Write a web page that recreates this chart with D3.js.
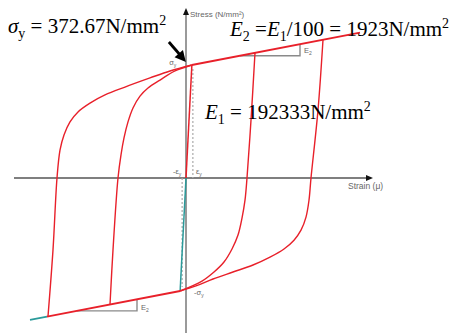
<!DOCTYPE html>
<html>
<head>
<meta charset="utf-8">
<script src="https://cdn.jsdelivr.net/npm/d3@7"></script>
<style>
  html, body { margin: 0; padding: 0; background: #fff; }
  svg { display: block; }
</style>
</head>
<body>
<svg id="chart" width="453" height="333"></svg>
<script>
// Material constants (N/mm², strain in micro-strain)
const sigmaY = 372.67;
const E1 = 192333;
const E2 = 1923;
const epsY = sigmaY / E1 * 1e6;   // ≈ 1938 μ

// Axis extents [strain, stress]
const strainAxis = [-56760, 61710];
const stressAxis = [-511, 561];

// Hardening branch ends (strain, μ)
const upperBranchEnd = 57420;
const lowerBranchRedEnd = -45870;
const lowerBranchTealEnd = -51480;

// Slope triangles on the hardening branches (strain, μ)
const upperTriangle = [17820, 37620];
const lowerTriangle = [-35970, -16170];

// Hysteresis loops: [strain μ, stress N/mm²]
const rightOuter = [[45210, 456], [43560, 224], [41250, 0], [40590, -73], [39600, -129],
  [37950, -172], [35640, -205], [32340, -234], [27720, -261], [22110, -287],
  [15510, -310], [8910, -333], [3300, -356], [-1938, -372.67]];
const rightInner = [[22770, 413], [21450, 191], [20130, 0], [19470, -73], [18480, -132],
  [17160, -188], [15180, -234], [12540, -277], [9240, -310], [5280, -340], [-1938, -372.67]];
const leftOuter = [[-45540, -456], [-43890, -237], [-42570, 0], [-41580, 92], [-40260, 142],
  [-38280, 185], [-35640, 218], [-31680, 247], [-26730, 274], [-20130, 300],
  [-11880, 330], [-5280, 353], [1938, 372.67]];
const leftInner = [[-25080, -417], [-24090, -237], [-22440, 0], [-21450, 76], [-20460, 132],
  [-19140, 185], [-17490, 231], [-15180, 270], [-12540, 297], [-8580, 323],
  [-3630, 353], [1938, 372.67]];

const loops = [rightOuter, rightInner, leftOuter, leftInner];

const svg = d3.select("#chart");
const x = d3.scaleLinear().domain([-56100, 62700]).range([16, 376]);
const y = d3.scaleLinear().domain([-510, 560]).range([332.64, 8.2]);

const RED = "#e8202a";
const TEAL = "#2a9a9a";
const GREY = "#8a8a8a";

const upperStress = e => sigmaY + E2 * (e - epsY) * 1e-6;
const lowerStress = e => -sigmaY + E2 * (e + epsY) * 1e-6;

// Stress axis (grey, vertical)
svg.append("line")
  .attr("x1", x(0)).attr("x2", x(0))
  .attr("y1", y(stressAxis[0])).attr("y2", y(stressAxis[1]) + 4)
  .attr("stroke", "#9a9a9a").attr("stroke-width", 2);
svg.append("path")
  .attr("d", `M${x(0)},${y(stressAxis[1])} l-3,7 h6 z`)
  .attr("fill", "#111");

// Strain axis (dark, horizontal)
svg.append("line")
  .attr("x1", x(strainAxis[0])).attr("x2", x(strainAxis[1]) - 4)
  .attr("y1", y(0)).attr("y2", y(0))
  .attr("stroke", "#555").attr("stroke-width", 1.6);
svg.append("path")
  .attr("d", `M${x(strainAxis[1])},${y(0)} l-7,-3 v6 z`)
  .attr("fill", "#111");

// Dotted guide lines at ±εy
svg.append("line")
  .attr("x1", x(epsY) + 1).attr("x2", x(epsY) + 1)
  .attr("y1", y(sigmaY) + 4).attr("y2", y(0))
  .attr("stroke", "#aaa").attr("stroke-width", 1.2).attr("stroke-dasharray", "2,2");
svg.append("line")
  .attr("x1", x(-epsY) + 2).attr("x2", x(-epsY) + 2)
  .attr("y1", y(0)).attr("y2", y(-sigmaY) - 4)
  .attr("stroke", "#aaa").attr("stroke-width", 1.2).attr("stroke-dasharray", "2,2");

// Slope triangles
function triangle(ends, f) {
  const [a, b] = ends;
  return `M${x(a)},${y(f(a))} H${x(b)} V${y(f(b))}`;
}
svg.append("path").attr("d", triangle(upperTriangle, upperStress))
  .attr("fill", "none").attr("stroke", GREY).attr("stroke-width", 1.4);
svg.append("path").attr("d", triangle(lowerTriangle, lowerStress))
  .attr("fill", "none").attr("stroke", GREY).attr("stroke-width", 1.4);

const line = d3.line().x(d => x(d[0])).y(d => y(d[1]));
const curve = d3.line().x(d => x(d[0])).y(d => y(d[1])).curve(d3.curveCatmullRom.alpha(0.5));

// Elastic branch
svg.append("path").datum([[-epsY, -sigmaY], [0, 0]]).attr("d", line)
  .attr("fill", "none").attr("stroke", TEAL).attr("stroke-width", 1.5);
svg.append("path").datum([[0, 0], [epsY, sigmaY]]).attr("d", line)
  .attr("fill", "none").attr("stroke", RED).attr("stroke-width", 1.5);

// Hardening branches
svg.append("path").datum([[lowerBranchRedEnd, lowerStress(lowerBranchRedEnd)], [lowerBranchTealEnd, lowerStress(lowerBranchTealEnd)]])
  .attr("d", line).attr("fill", "none").attr("stroke", TEAL).attr("stroke-width", 1.6);
svg.append("path").datum([[-epsY, -sigmaY], [lowerBranchRedEnd, lowerStress(lowerBranchRedEnd)]])
  .attr("d", line).attr("fill", "none").attr("stroke", RED).attr("stroke-width", 1.8);
svg.append("path").datum([[epsY, sigmaY], [upperBranchEnd, upperStress(upperBranchEnd)]])
  .attr("d", line).attr("fill", "none").attr("stroke", RED).attr("stroke-width", 1.8);

// Hysteresis loops
svg.selectAll("path.loop").data(loops).join("path")
  .attr("class", "loop")
  .attr("d", curve)
  .attr("fill", "none").attr("stroke", RED).attr("stroke-width", 1.4);

// Small axis captions
const small = { "font-family": "Arial, 'Liberation Sans', sans-serif", "font-size": 8, "fill": "#666" };
function smallText(tx, ty, str, size) {
  const t = svg.append("text").attr("x", tx).attr("y", ty);
  Object.entries(small).forEach(([k, v]) => t.attr(k, v));
  if (size) t.attr("font-size", size);
  t.text(str);
  return t;
}
smallText(x(0) + 4, y(stressAxis[1]) + 9, "Stress (N/mm²)");
smallText(x(strainAxis[1]) - 25, y(0) + 11, "Strain (μ)", 8.5);
smallText(x(-epsY) - 11, y(sigmaY), "σ", 7.5).append("tspan").attr("dy", 2).attr("font-size", 5).text("y");
smallText(x(0) + 8, y(-sigmaY) + 4, "-σ", 7.5).append("tspan").attr("dy", 2).attr("font-size", 5).text("y");
smallText(x(0) - 13, y(0) - 4, "-ε", 7.5).append("tspan").attr("dy", 2).attr("font-size", 5).text("y");
smallText(x(0) + 10, y(0) - 4, "ε", 7.5).append("tspan").attr("dy", 2).attr("font-size", 5).text("y");
smallText(x(upperTriangle[1]) + 4, y(upperStress(upperTriangle[0])) - 3, "E", 7.5).append("tspan").attr("dy", 2).attr("font-size", 5).text("2");
smallText(x(lowerTriangle[1]) + 4, y(lowerStress(lowerTriangle[0])) - 1, "E", 7.5).append("tspan").attr("dy", 2).attr("font-size", 5).text("2");

// Large annotations (serif, math style)
const serif = "'Liberation Serif', 'Times New Roman', serif";
function bigText(tx, ty, parts) {
  const t = svg.append("text").attr("x", tx).attr("y", ty)
    .attr("font-family", serif).attr("font-size", 21).attr("fill", "#000");
  let shift = 0;
  parts.forEach(p => {
    const want = p.sub ? 5 : p.sup ? -8 : 0;
    const s = t.append("tspan").attr("dy", want - shift).text(p.t);
    shift = want;
    if (p.it) s.attr("font-style", "italic");
    if (p.sub || p.sup) s.attr("font-size", 14);
  });
  return t;
}
bigText(8, 33, [{ t: "σ", it: true }, { t: "y", sub: true }, { t: " = " + sigmaY + "N/mm" }, { t: "2", sup: true }]);
bigText(230, 36, [{ t: "E", it: true }, { t: "2", sub: true }, { t: " =" }, { t: "E", it: true }, { t: "1", sub: true },
  { t: "/100 = " + E2 + "N/mm" }, { t: "2", sup: true }]);
bigText(205, 119, [{ t: "E", it: true }, { t: "1", sub: true }, { t: " = " + E1 + "N/mm" }, { t: "2", sup: true }]);

// Pointer to the yield point
const tip = [x(epsY) - 6, y(sigmaY) - 3];
const tail = [tip[0] - 17, tip[1] - 20];
svg.append("line")
  .attr("x1", tail[0]).attr("y1", tail[1]).attr("x2", tip[0] - 4).attr("y2", tip[1] - 5)
  .attr("stroke", "#000").attr("stroke-width", 2.8);
const ang = Math.atan2(tip[1] - tail[1], tip[0] - tail[0]);
const L = 11, W = 5.5;
const bx = tip[0] - L * Math.cos(ang), by = tip[1] - L * Math.sin(ang);
svg.append("path")
  .attr("d", `M${tip[0]},${tip[1]} L${bx + W * Math.sin(ang)},${by - W * Math.cos(ang)} L${bx - W * Math.sin(ang)},${by + W * Math.cos(ang)} Z`)
  .attr("fill", "#000");
</script>
</body>
</html>
